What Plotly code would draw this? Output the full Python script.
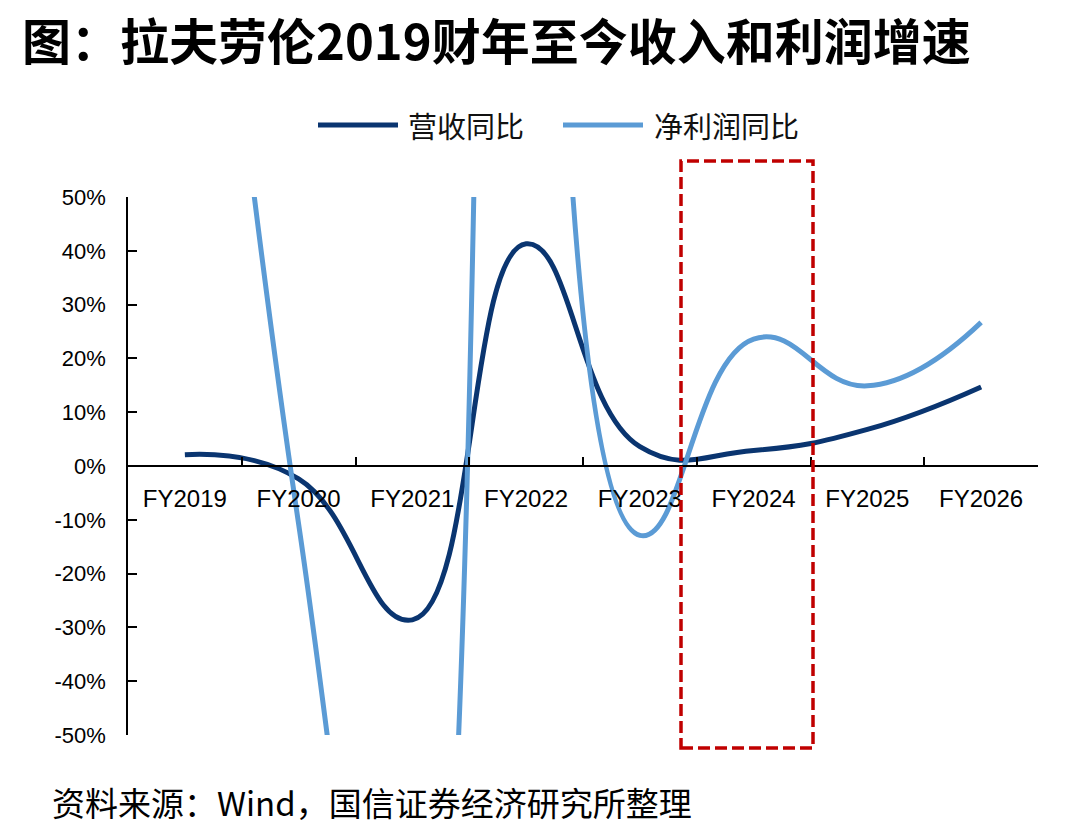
import plotly.graph_objects as go

categories = ["FY2019", "FY2020", "FY2021", "FY2022", "FY2023", "FY2024", "FY2025", "FY2026"]
revenue_yoy = [2.1, -2.4, -28.6, 41.3, 3.6, 2.9, 6.8, 14.7]
profit_yoy = [164.3, -10.8, -131.5, 595.5, -12.9, 23.6, 14.9, 26.7]
y_tickvals = [50, 40, 30, 20, 10, 0, -10, -20, -30, -40, -50]
y_ticktext = ["50%", "40%", "30%", "20%", "10%", "0%", "-10%", "-20%", "-30%", "-40%", "-50%"]
series_names = ["营收同比", "净利润同比"]
title_text = "图：拉夫劳伦2019财年至今收入和利润增速"
source_text = "资料来源：Wind，国信证券经济研究所整理"

DARK = "#0A3570"
LIGHT = "#5B9BD5"
CJK = "Noto Sans CJK SC"

W, H = 1076, 834
L, R, T, B = 128, 38, 197, 99
PW, PH = W - L - R, H - T - B


def px(x):
    return (x - L) / PW


def py(y):
    return (H - B - y) / PH


fig = go.Figure()
fig.add_trace(go.Scatter(x=categories, y=revenue_yoy, mode="lines", name=series_names[0],
                         line=dict(color=DARK, width=5, shape="spline", smoothing=1.3),
                         showlegend=False))
fig.add_trace(go.Scatter(x=categories, y=profit_yoy, mode="lines", name=series_names[1],
                         line=dict(color=LIGHT, width=5, shape="spline", smoothing=1.3),
                         showlegend=False))

# manual legend
legend_items = [(318, 398, 406, DARK, series_names[0]), (563, 643, 652, LIGHT, series_names[1])]
for x0, x1, tx, col, name in legend_items:
    fig.add_shape(type="line", xref="paper", yref="paper", x0=px(x0), x1=px(x1), y0=py(125), y1=py(125),
                  line=dict(color=col, width=5))
    fig.add_annotation(xref="paper", yref="paper", x=px(tx), y=py(125), text=name, showarrow=False,
                       xanchor="left", yanchor="middle", font=dict(family=CJK, size=29, color="#111111"))

# highlight box
fig.add_shape(type="rect", xref="paper", yref="paper", x0=px(681), x1=px(813), y0=py(748), y1=py(161),
              line=dict(color="#C00000", width=3.5, dash="12px,5px"), fillcolor="rgba(0,0,0,0)", layer="above")

fig.add_annotation(xref="paper", yref="paper", x=px(50), y=py(802), text=source_text, showarrow=False,
                   xanchor="left", yanchor="middle", font=dict(family=CJK, size=33, color="#000000"))

# title as annotation
fig.add_annotation(xref="paper", yref="paper", x=px(20), y=py(38), text=title_text, showarrow=False,
                   xanchor="left", yanchor="middle",
                   font=dict(family=CJK, size=49, color="#000000", weight=700))

fig.update_layout(
    width=W, height=H,
    margin=dict(l=L, r=R, t=T, b=B),
    paper_bgcolor="white", plot_bgcolor="white",
    showlegend=False,
    xaxis=dict(type="category", anchor="free", position=0.5, showgrid=False, zeroline=False,
               showline=True, linecolor="#000000", linewidth=1.5,
               ticks="inside", tickson="boundaries", ticklen=8, tickcolor="#000000", tickwidth=1.5,
               ticklabelstandoff=11,
               tickfont=dict(family="Liberation Sans", size=24, color="#000000"),
               range=[-0.5, 7.5]),
    yaxis=dict(range=[-50, 50], showgrid=False, zeroline=False, showline=True, linecolor="#000000",
               linewidth=1.5, ticks="inside", ticklen=9, tickcolor="#000000", tickwidth=1.5,
               tickvals=y_tickvals, ticktext=y_ticktext, ticklabelstandoff=16,
               tickfont=dict(family="Liberation Sans", size=22, color="#000000")),
)

fig.write_html("out.html")
